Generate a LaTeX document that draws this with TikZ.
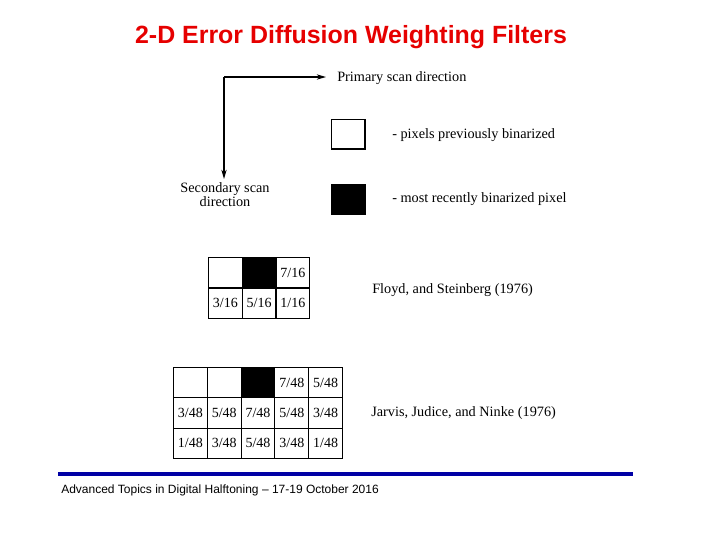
\documentclass[tikz,border=0pt]{standalone}
\usepackage{fontspec}
\setmainfont{Liberation Serif}
\newfontfamily\arialfont{Liberation Sans}
\usetikzlibrary{arrows.meta}
\definecolor{titlered}{RGB}{230,0,0}
\definecolor{barblue}{RGB}{0,0,165}
\begin{document}
\begin{tikzpicture}[x=0.75pt,y=-0.75pt,
  cellbox/.style={draw=black,line width=0.8pt,minimum width=25.3pt,minimum height=22.8pt,inner sep=0pt,font=\fontsize{10.5}{12}\selectfont,anchor=north west},
  fillcell/.style={cellbox,fill=black},
  lbl/.style={font=\fontsize{10.7}{10.5}\selectfont,inner sep=0pt},
  legbox/.style={draw=black,line width=1pt,minimum width=25pt,minimum height=22pt,inner sep=0pt,anchor=north west},
  arr/.style={line width=1pt,-{Stealth[length=7pt,width=4pt]}}]
\useasboundingbox (0,0) rectangle (720,540);
\node[font=\arialfont\bfseries\fontsize{18.7}{22}\selectfont,text=titlered] (title) at (351,37.5) {2-D Error Diffusion Weighting Filters};
% scan direction arrows
\coordinate (corner) at (224,77);
\coordinate (hend) at (326,77);
\coordinate (vend) at (224,179);
\draw[arr] (corner) -- (hend);
\draw[arr] (corner) -- (vend);
\node[lbl,anchor=west] (prim) at (337,78) {Primary scan direction};
\node[lbl,align=center] (sec) at (225,194.5) {Secondary scan\\direction};
% legend
\node[legbox] (wbox) at (331,119) {};
\node[legbox,fill=black] (bbox) at (331,184) {};
\node[lbl,anchor=west] (wtxt) at (392,135) {- pixels previously binarized};
\node[lbl,anchor=west] (btxt) at (392,199) {- most recently binarized pixel};
% Floyd-Steinberg
\node[cellbox] (f11) at (208,257) {};
\node[fillcell] (f12) at (241.7,257) {};
\node[cellbox] (f13) at (275.4,257) {7/16};
\node[cellbox] (f21) at (208,287.5) {3/16};
\node[cellbox] (f22) at (241.7,287.5) {5/16};
\node[cellbox] (f23) at (275.4,287.5) {1/16};
\node[lbl,anchor=west] (fs) at (372,290) {Floyd, and Steinberg (1976)};
% Jarvis Judice Ninke
\node[cellbox] (j11) at (173,367) {};
\node[cellbox] (j12) at (206.8,367) {};
\node[fillcell] (j13) at (240.6,367) {};
\node[cellbox] (j14) at (274.4,367) {7/48};
\node[cellbox] (j15) at (308.2,367) {5/48};
\node[cellbox] (j21) at (173,397.3) {3/48};
\node[cellbox] (j22) at (206.8,397.3) {5/48};
\node[cellbox] (j23) at (240.6,397.3) {7/48};
\node[cellbox] (j24) at (274.4,397.3) {5/48};
\node[cellbox] (j25) at (308.2,397.3) {3/48};
\node[cellbox] (j31) at (173,427.6) {1/48};
\node[cellbox] (j32) at (206.8,427.6) {3/48};
\node[cellbox] (j33) at (240.6,427.6) {5/48};
\node[cellbox] (j34) at (274.4,427.6) {3/48};
\node[cellbox] (j35) at (308.2,427.6) {1/48};
\node[lbl,anchor=west] (jjn) at (371,413) {Jarvis, Judice, and Ninke (1976)};
% footer
\coordinate (barl) at (58,474);
\coordinate (barr) at (633,474);
\draw[barblue,line width=2.3pt] (barl) -- (barr);
\node[font=\arialfont\fontsize{9}{10.5}\selectfont,anchor=west,inner sep=0pt] (foot) at (61,490) {Advanced Topics in Digital Halftoning – 17-19 October 2016};
\end{tikzpicture}
\end{document}
